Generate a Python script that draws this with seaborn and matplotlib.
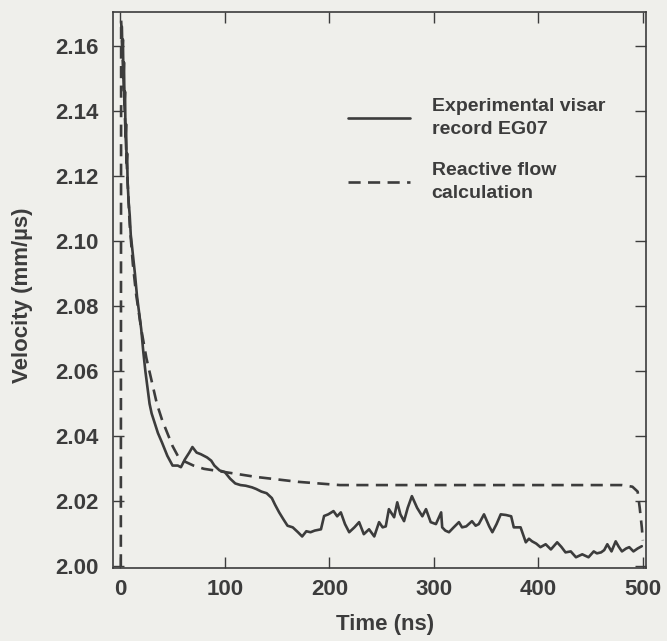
import numpy as np
import pandas as pd
import matplotlib
matplotlib.use("Agg")
import matplotlib.pyplot as plt
import seaborn as sns

# Experimental visar record EG07 (solid)
exp_time = [1.5, 2, 2.5, 3, 3.5, 4, 4.5, 5, 5.5, 6, 6.5, 7, 8, 9, 10, 12, 14, 16, 18, 20,
            22, 24, 26, 28, 30, 33, 36, 40, 45, 50, 55, 58, 62, 66, 69, 73, 77, 80, 83, 85,
            87, 90, 95, 100, 105, 110, 115, 120, 126, 130, 135, 140, 145, 148, 152, 156, 160,
            165, 170, 174, 178, 182, 186, 192, 195, 199, 204, 207.5, 211, 215, 219, 224, 228.5,
            233, 238, 243, 247.6, 251, 254, 257, 262, 265, 268, 271.5, 275, 279, 284, 289,
            292.5, 297, 302, 307, 308, 311, 314.5, 319, 324, 327, 331, 336.5, 340, 343, 348,
            353, 356, 360, 364, 369, 374, 376.5, 383, 388, 391, 394, 398, 402, 407, 412, 418,
            422, 426, 431, 436, 442, 448, 453, 456, 460, 463, 466, 470, 474, 477, 480, 484,
            487, 491, 495, 499]
exp_vel = [2.166, 2.158, 2.162, 2.150, 2.155, 2.142, 2.146, 2.132, 2.136, 2.124, 2.127, 2.118,
           2.112, 2.108, 2.102, 2.096, 2.090, 2.083, 2.078, 2.073, 2.066, 2.060, 2.055, 2.050,
           2.047, 2.044, 2.041, 2.038, 2.034, 2.031, 2.031, 2.0305, 2.033, 2.035, 2.0367,
           2.035, 2.0345, 2.034, 2.0335, 2.033, 2.0325, 2.031, 2.0295, 2.029, 2.027, 2.0255,
           2.025, 2.0248, 2.0243, 2.0238, 2.023, 2.0225, 2.021, 2.019, 2.0166, 2.0145, 2.0125,
           2.012, 2.0105, 2.0092, 2.0108, 2.0105, 2.011, 2.0114, 2.0155, 2.016, 2.017, 2.0154,
           2.0166, 2.013, 2.0105, 2.012, 2.0136, 2.0099, 2.0114, 2.0092, 2.0136, 2.012, 2.0123,
           2.0176, 2.0151, 2.0197, 2.016, 2.0139, 2.018, 2.0216, 2.018, 2.0154, 2.0176, 2.0136,
           2.013, 2.0166, 2.012, 2.011, 2.0105, 2.012, 2.0136, 2.012, 2.0123, 2.0139, 2.0125,
           2.013, 2.016, 2.0123, 2.0105, 2.013, 2.016, 2.0158, 2.0154, 2.012, 2.012, 2.0074,
           2.0085, 2.0077, 2.007, 2.0059, 2.0068, 2.0052, 2.0074, 2.006, 2.0043, 2.0046, 2.0028,
           2.0037, 2.0028, 2.0046, 2.004, 2.0043, 2.005, 2.0068, 2.0046, 2.0077, 2.006, 2.0046,
           2.0055, 2.0059, 2.0046, 2.0055, 2.0062]

# Reactive flow calculation (dashed)
calc_time = [0.5, 0.8, 3, 6, 9, 12, 15, 20, 25, 30, 35, 40, 45, 50, 55, 60, 70, 80, 100, 130,
             170, 210, 300, 400, 480, 490, 495, 497, 499, 500]
calc_vel = [2.000, 2.168, 2.150, 2.125, 2.105, 2.093, 2.084, 2.073, 2.064, 2.057, 2.050, 2.045,
            2.041, 2.037, 2.034, 2.0325, 2.031, 2.030, 2.029, 2.0275, 2.026, 2.025, 2.025,
            2.025, 2.025, 2.0245, 2.023, 2.018, 2.012, 2.008]

x_ticks = [0, 100, 200, 300, 400, 500]
y_ticks = [2.00, 2.02, 2.04, 2.06, 2.08, 2.10, 2.12, 2.14, 2.16]
exp_label = "Experimental visar\nrecord EG07"
calc_label = "Reactive flow\ncalculation"

sns.set_style("ticks")
plt.rcParams['font.family'] = ['Liberation Sans', 'DejaVu Sans']

bg = '#efefeb'
ink = '#3c3c3c'
fig = plt.figure(figsize=(6.67, 6.41), dpi=100, facecolor=bg)
ax = fig.add_axes([0.1694, 0.1139, 0.7991, 0.8674], facecolor=bg)

exp_df = pd.DataFrame({"Time": exp_time, "Velocity": exp_vel})
calc_df = pd.DataFrame({"Time": calc_time, "Velocity": calc_vel})

sns.lineplot(data=exp_df, x="Time", y="Velocity", ax=ax, color=ink, linewidth=1.9,
             sort=False, estimator=None, label=exp_label)
sns.lineplot(data=calc_df, x="Time", y="Velocity", ax=ax, color=ink, linewidth=1.9,
             sort=False, estimator=None, label=calc_label, linestyle=(0, (4.6, 2.8)))

ax.set_xlim(-7, 503)
ax.set_ylim(1.9995, 2.1705)
ax.set_xticks(x_ticks)
ax.set_yticks(y_ticks)
ax.set_xticklabels([str(t) for t in x_ticks], fontweight='bold')
ax.set_yticklabels([f"{t:.2f}" for t in y_ticks], fontweight='bold')
ax.tick_params(direction='in', length=8, width=1.0, colors=ink, labelcolor=ink,
               labelsize=16, top=True, right=True)
ax.tick_params(axis='y', pad=10)
ax.tick_params(axis='x', pad=8)
for s in ax.spines.values():
    s.set_color(ink)
    s.set_linewidth(1.2)

ax.set_xlabel("Time (ns)", fontsize=16, color=ink, fontweight='bold')
ax.set_ylabel("Velocity (mm/\u00b5s)", fontsize=16, color=ink, fontweight='bold')
ax.xaxis.set_label_coords(0.51, -0.083)
ax.yaxis.set_label_coords(-0.150, 0.49)

leg = ax.legend(loc='upper left', bbox_to_anchor=(0.441, 0.845), frameon=False,
                prop={'weight': 'bold', 'size': 14}, handlelength=3.2, handletextpad=1.1,
                labelspacing=1.25, borderpad=0, borderaxespad=0, labelcolor=ink)
for t in leg.get_texts():
    t.set_linespacing(1.45)

fig.savefig("out.png", dpi=100, facecolor=bg)
